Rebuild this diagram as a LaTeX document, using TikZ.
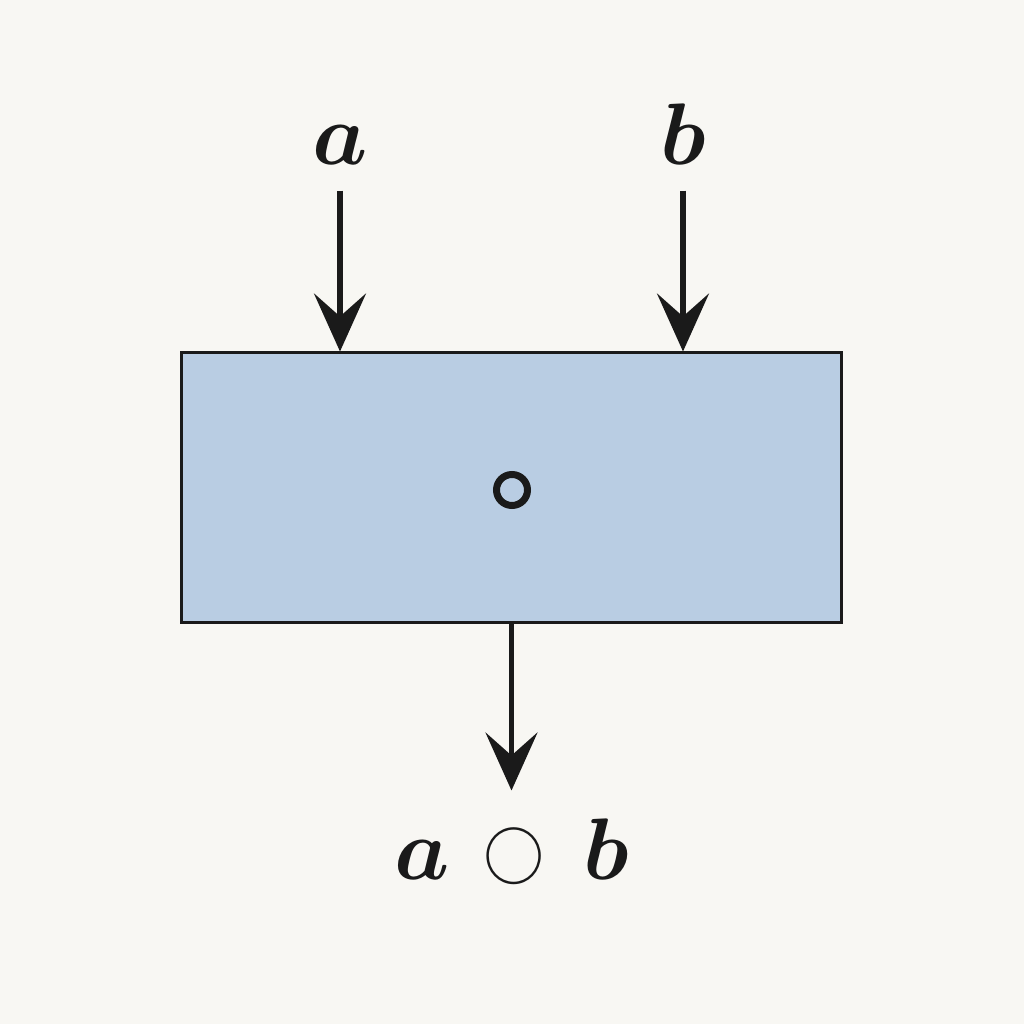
\documentclass[tikz,border=0pt]{standalone}
\usetikzlibrary{arrows.meta,positioning}
\definecolor{bgc}{HTML}{F8F7F3}
\definecolor{boxf}{HTML}{B9CDE3}
\definecolor{ink}{HTML}{1A1A1A}

\begin{document}
\begin{tikzpicture}[
  font=\fontsize{35}{42}\selectfont\boldmath,
  opbox/.style={draw=ink,fill=boxf,line width=0.03cm,minimum width=6.60cm,minimum height=2.70cm,inner sep=0pt},
  lbl/.style={anchor=base,inner sep=0.25cm,text=ink},
  flow/.style={-{Stealth[length=5.8mm,width=5.2mm,inset=2.3mm]},line width=0.052cm,draw=ink}]
\fill[bgc] (0,0) rectangle (10.24,10.24);
\useasboundingbox (0,0) rectangle (10.24,10.24);
\node[opbox] (box) at (5.115,5.36) {};
\node[circle,draw=ink,line width=0.07cm,minimum size=0.31cm,inner sep=0pt] (opsym) at (5.12,5.34) {};
\node[lbl] (la) at (3.40,8.59) {$a$};
\node[lbl] (lb) at (6.83,8.59) {$b$};
\node[below=1.66cm of box,inner xsep=0pt,inner ysep=0.28cm,text=ink] (res) {$a\mkern2mu\mathbin{\raisebox{0.07em}{\scalebox{0.7}{\unboldmath$\bigcirc$}}}\mkern3mu b$};
% inputs and output
\foreach \n in {la,lb} \draw[flow] (\n.south) -- (box.north -| \n.south);
\draw[flow] (box.south) -- (res.north);
\end{tikzpicture}
\end{document}
